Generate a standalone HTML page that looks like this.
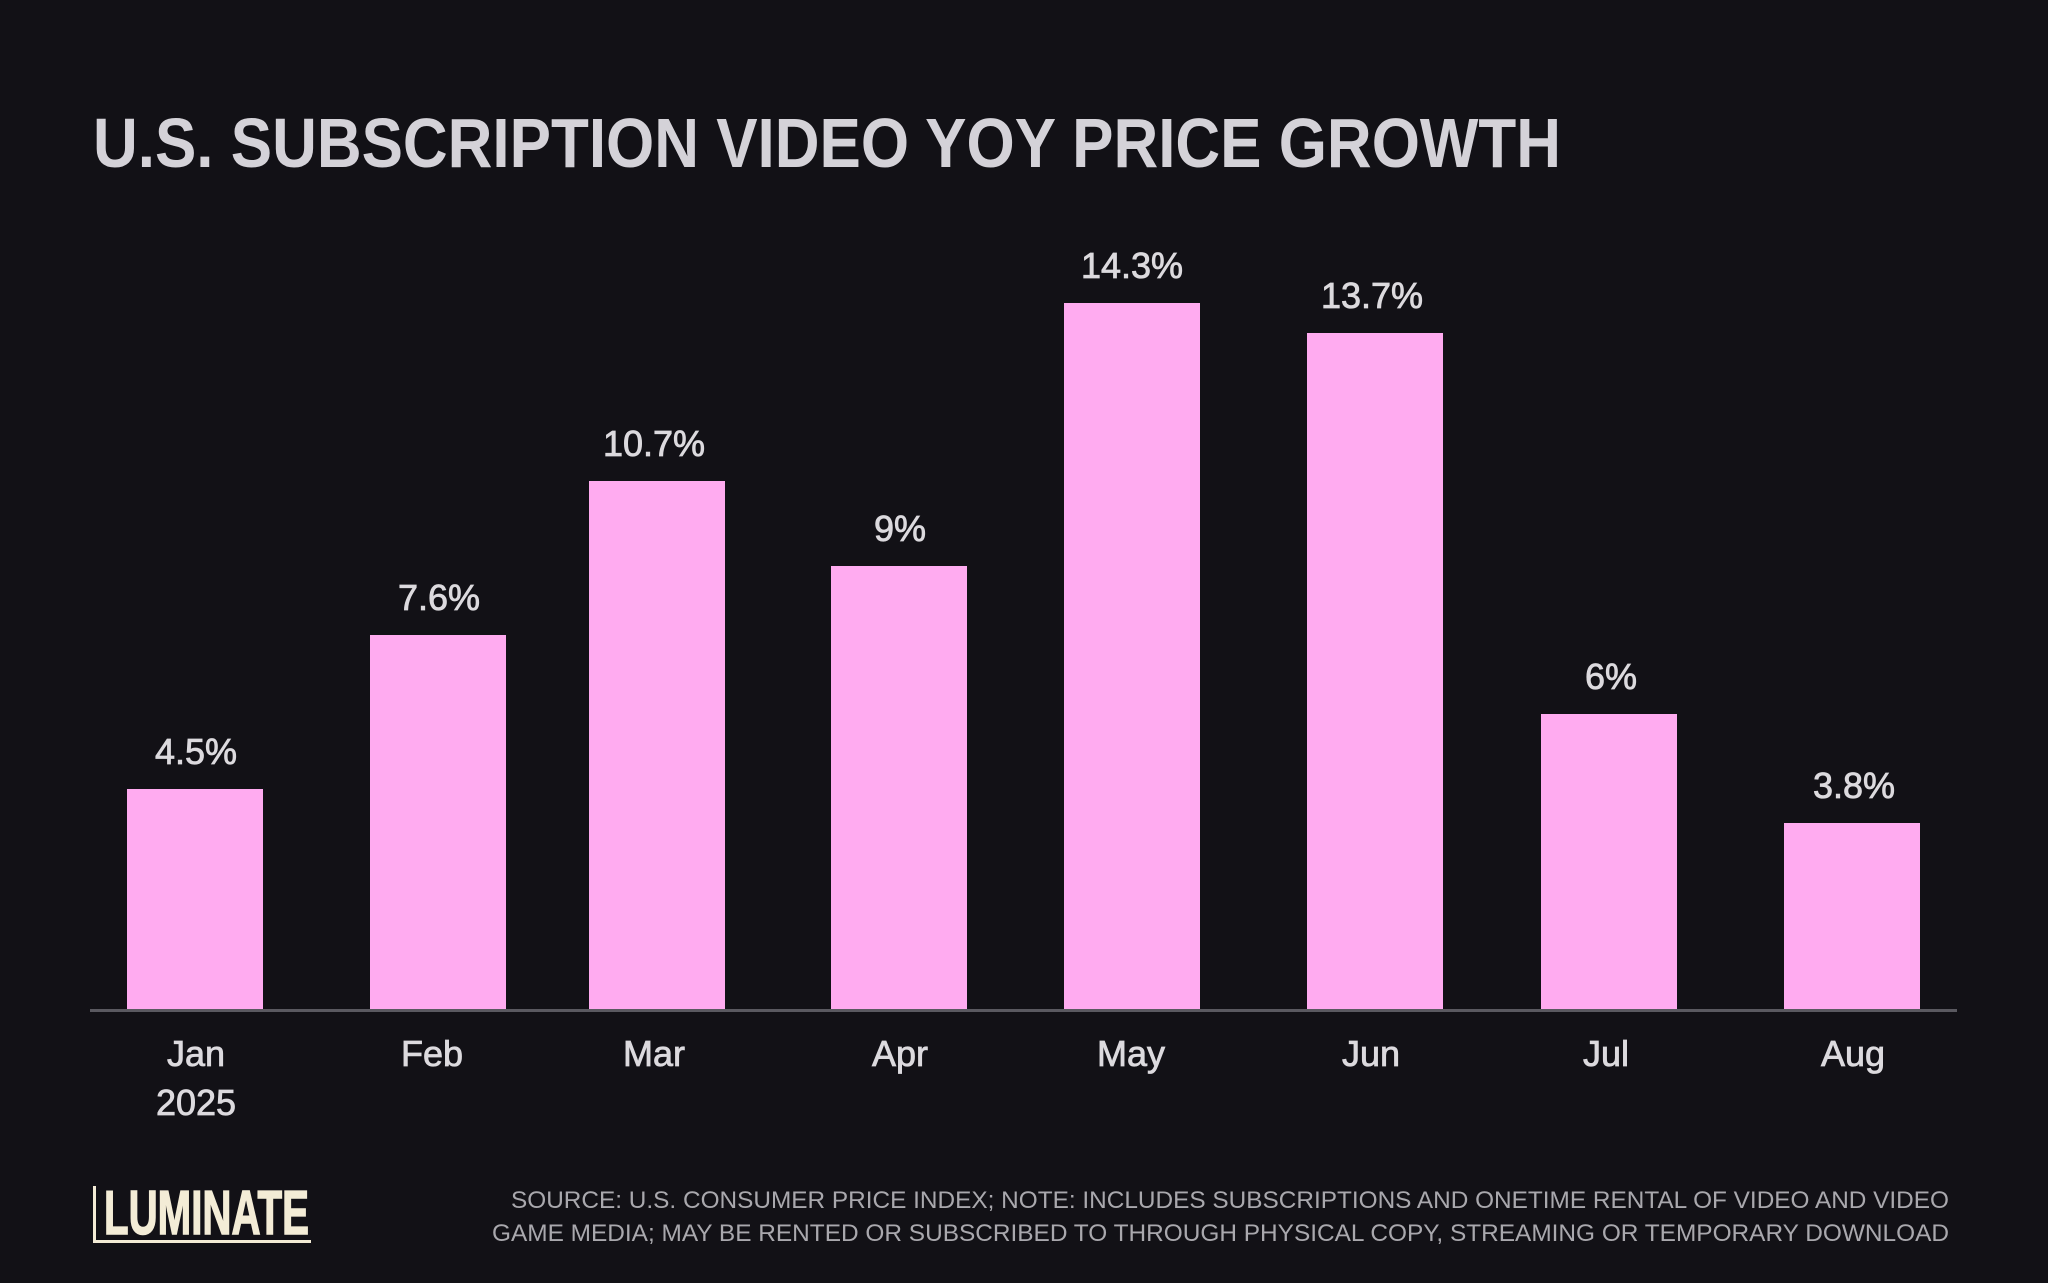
<!DOCTYPE html>
<html><head><style>html,body{margin:0;padding:0;background:#121116;}svg{display:block}</style></head>
<body>
<svg width="2048" height="1283" viewBox="0 0 2048 1283" xmlns="http://www.w3.org/2000/svg">
<rect width="2048" height="1283" fill="#121116"/>
<text x="93" y="167" font-family="Liberation Sans, sans-serif" font-weight="bold" font-size="70" fill="#d4d2d8" textLength="1468" lengthAdjust="spacingAndGlyphs">U.S. SUBSCRIPTION VIDEO YOY PRICE GROWTH</text>
<g fill="#ffabf0">
<rect x="127" y="789" width="136" height="221"/>
<rect x="370" y="635" width="136" height="375"/>
<rect x="589" y="481" width="136" height="529"/>
<rect x="831" y="566" width="136" height="444"/>
<rect x="1064" y="303" width="136" height="707"/>
<rect x="1307" y="333" width="136" height="677"/>
<rect x="1541" y="714" width="136" height="296"/>
<rect x="1784" y="823" width="136" height="187"/>
</g>
<rect x="90" y="1009" width="1867" height="3" fill="#5a5960"/>
<g font-family="Liberation Sans, sans-serif" font-size="36" fill="#dcdade" stroke="#dcdade" stroke-width="0.8" text-anchor="middle">
<text x="196" y="764">4.5%</text>
<text x="439" y="610">7.6%</text>
<text x="654" y="456">10.7%</text>
<text x="900" y="541">9%</text>
<text x="1132" y="278">14.3%</text>
<text x="1372" y="308">13.7%</text>
<text x="1611" y="689">6%</text>
<text x="1854" y="798">3.8%</text>
<text x="196" y="1066">Jan</text>
<text x="196" y="1115">2025</text>
<text x="432" y="1066">Feb</text>
<text x="654" y="1066">Mar</text>
<text x="900" y="1066">Apr</text>
<text x="1131" y="1066">May</text>
<text x="1371" y="1066">Jun</text>
<text x="1606" y="1066">Jul</text>
<text x="1853" y="1066">Aug</text>
</g>
<rect x="93" y="1186" width="3" height="57" fill="#f3ecd6"/>
<rect x="93" y="1240" width="218" height="3" fill="#f3ecd6"/>
<text x="104" y="1234" font-family="Liberation Sans, sans-serif" font-weight="bold" font-size="62" fill="#f3ecd6" stroke="#f3ecd6" stroke-width="1.5" textLength="205" lengthAdjust="spacingAndGlyphs">LUMINATE</text>
<g font-family="Liberation Sans, sans-serif" font-size="24" fill="#a9a8ad" text-anchor="end">
<text x="1949" y="1208" textLength="1438" lengthAdjust="spacingAndGlyphs">SOURCE: U.S. CONSUMER PRICE INDEX; NOTE: INCLUDES SUBSCRIPTIONS AND ONETIME RENTAL OF VIDEO AND VIDEO</text>
<text x="1949" y="1241" textLength="1457" lengthAdjust="spacingAndGlyphs">GAME MEDIA; MAY BE RENTED OR SUBSCRIBED TO THROUGH PHYSICAL COPY, STREAMING OR TEMPORARY DOWNLOAD</text>
</g>
</svg>
</body></html>
